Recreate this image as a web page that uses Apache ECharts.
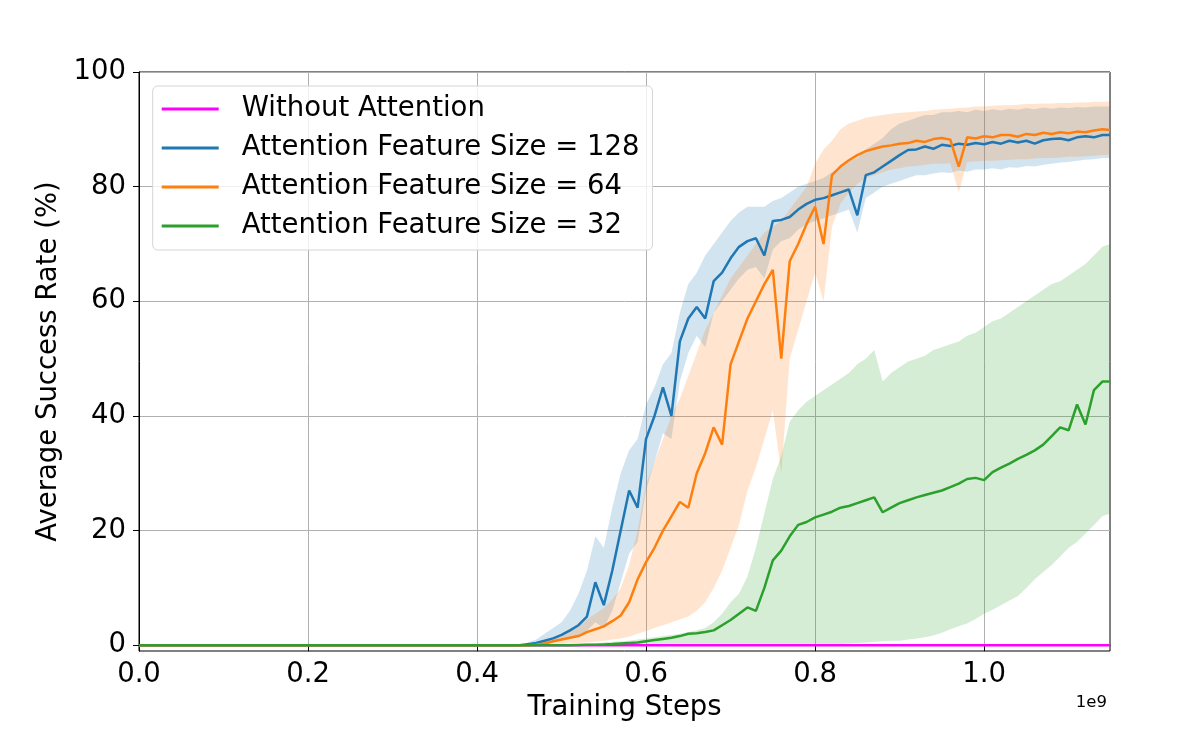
<!DOCTYPE html>
<html><head><meta charset="utf-8">
<script src="https://cdn.jsdelivr.net/npm/echarts@6/dist/echarts.min.js"></script>
<style>html,body{margin:0;padding:0;background:#fff}#c{width:1196px;height:734px}</style>
</head><body><div id="c"></div>
<script>
// x values in units of 1e9 training steps
const steps = [0,0.1,0.2,0.3,0.4,0.45,
0.46,0.47,0.48,0.49,
0.50,0.51,0.52,0.53,0.54,0.55,0.56,0.57,0.58,0.59,
0.60,0.61,0.62,0.63,0.64,0.65,0.66,0.67,0.68,0.69,
0.70,0.71,0.72,0.73,0.74,0.75,0.76,0.77,0.78,0.79,
0.80,0.81,0.82,0.83,0.84,0.85,0.86,0.87,0.88,0.89,
0.90,0.91,0.92,0.93,0.94,0.95,0.96,0.97,0.98,0.99,
1.00,1.01,1.02,1.03,1.04,1.05,1.06,1.07,1.08,1.09,
1.10,1.11,1.12,1.13,1.14,
1.149];

const noAttention = [0,0,0,0,0,0, 0,0,0,0, 0,0,0,0,0,0,0,0,0,0, 0,0,0,0,0,0,0,0,0,0,
0,0,0,0,0,0,0,0,0,0, 0,0,0,0,0,0,0,0,0,0, 0,0,0,0,0,0,0,0,0,0, 0,0,0,0,0,0,0,0,0,0, 0,0,0,0,0, 0];

const mean128 = [0,0,0,0,0,0,
0.2,0.4,0.8,1.2,
1.8,2.6,3.5,5.0,11,7,13,20,27,24,
36,40,45,40,53,57,59,57,63.5,65,
67.5,69.5,70.5,71,68,74,74.2,74.7,76,77,
77.7,78,78.5,79,79.5,75,82,82.5,83.5,84.5,
85.5,86.4,86.5,87,86.6,87.3,87.1,87.5,87.3,87.6,
87.4,87.8,87.5,88,87.7,88,87.5,88.1,88.3,88.4,
88.1,88.6,88.8,88.6,89,
89];
const hi128 = [0,0,0,0,0,0,
0.5,1,2,3,
4,6,9,13,19,17,24,30,34,36,
42,45,49,51,58,63,65,68,70,72,
74,75.5,76.5,76.5,76.5,77.5,78,79,80,80.5,
81,81.5,82.5,83.5,84.5,85,86.5,87.5,88.5,90,
91,91.5,92,92.5,92.5,93,93,93.2,93,93.4,
93.2,93.5,93.3,93.6,93.4,93.7,93.5,93.8,93.6,93.8,
93.7,93.9,93.8,94,94,
94];
const lo128 = [0,0,0,0,0,0,
0,0,0.2,0.4,
0.8,1.2,1.8,2.5,4,3,6,11,16,18,
27,32,37,36,46,51,54,52,58,60,
62,64,65.5,66,64,69,70.5,71,72.5,73.5,
74,74.5,75,75.5,76,72,78,79,80,80.5,
81,81.5,82,82,82.3,82.5,82.4,82.8,82.6,83,
83,83.2,83,83.4,83.3,83.6,83.5,83.8,84,84.2,
84.3,84.5,84.7,84.8,85,
85];

const mean64 = [0,0,0,0,0,0,
0,0.1,0.3,0.7,
1.0,1.3,1.6,2.3,2.8,3.3,4.2,5.2,7.5,11.5,
14.5,17,20,22.5,25,24,30,33.5,38,35,
49,53,57,60,63,65.5,50,67,70,73.5,
76.5,70,82,83.5,84.6,85.5,86.2,86.6,87,87.2,
87.5,87.6,88,87.8,88.3,88.5,88.2,83.5,88.6,88.4,
88.8,88.6,89,89,88.7,89.2,89,89.4,89.2,89.5,
89.3,89.6,89.5,89.8,90,
89.9];
const hi64 = [0,0,0,0,0,0,
0,0.3,0.6,1.2,
2,2.8,3.5,4.5,5.5,6.5,8,10,14,20,
28,32,36,40,43,47,51,55,58,61,
64,66,68,70,72,73,74,76,78,80,
84,86.5,88,90,91,91.5,92,92.3,92.5,92.7,
92.9,93,93.1,93.2,93.4,93.5,93.6,93.7,93.8,94,
94,94.1,94.2,94.2,94.3,94.4,94.4,94.5,94.5,94.6,
94.6,94.7,94.7,94.8,94.8,
94.8];
const lo64 = [0,0,0,0,0,0,
0,0,0,0.1,
0.2,0.3,0.4,0.5,0.6,0.8,1,1.2,1.5,2,
2.5,3,3.5,4,4.5,5,6,7.5,10,13,
17,21,27,31,36,41,30,50,55,60,
65,60,73,77,79,80.5,81.5,82,82.5,83,
83.2,83.5,83.6,83.8,84,84,84.1,79,84.3,84.4,
84.5,84.5,84.6,84.7,84.8,84.8,84.9,85,85,85.1,
85.2,85.2,85.3,85.4,85.5,
85.5];

const mean32 = [0,0,0,0,0,0,
0,0,0,0,
0,0,0.05,0.1,0.1,0.15,0.2,0.3,0.4,0.5,
0.7,0.9,1.1,1.3,1.6,2.0,2.1,2.3,2.6,3.5,
4.4,5.5,6.6,6,10,14.8,16.5,19,21,21.5,
22.3,22.8,23.3,24,24.3,24.8,25.3,25.8,23.2,24,
24.8,25.3,25.8,26.2,26.6,27,27.6,28.2,29,29.2,
28.8,30.2,31,31.7,32.5,33.2,34,35,36.5,38,
37.5,42,38.5,44.5,46,
46];
const hi32 = [0,0,0,0,0,0,
0,0,0,0.1,
0.1,0.2,0.2,0.3,0.4,0.5,0.6,0.7,0.8,1,
1.2,1.4,1.6,1.8,2,2.3,2.6,3,4,5.5,
7.5,9,12,17,23,29,33,39,41,42.5,
43.5,44.5,45.5,46.5,47.5,49,50,51.5,46,47.5,
48.5,49.5,50,50.5,51.5,52,52.5,53,54,54.5,
55.5,56.5,57,58,59,60,61,62,63,63.5,
64.5,65.5,66.5,68,69.5,
70];
const lo32 = [0,0,0,0,0,0,
0,0,0,0,
0,0,0,0,0,0,0,0,0,0,
0,0,0,0,0,0,0,0,0,0,
0,0,0,0,0,0,0,0,0,0,
0,0,0,0.2,0.3,0.4,0.5,0.6,0.7,0.8,
0.8,1,1.2,1.4,1.7,2.2,2.8,3.3,3.8,4.6,
5.5,6.2,7,7.8,8.6,10,11.5,12.8,14,15.5,
17,18,19.5,21,22.5,
23];

const names = ['Without Attention','Attention Feature Size = 128','Attention Feature Size = 64','Attention Feature Size = 32'];
const colors = ['#ff00ff','#1f77b4','#ff7f0e','#2ca02c'];
const bandColors = ['rgba(255,0,255,0.2)','rgba(31,119,180,0.2)','rgba(255,127,14,0.2)','rgba(44,160,44,0.2)'];
const yTicks = [0,20,40,60,80,100];
const xTicks = [0,0.2,0.4,0.6,0.8,1.0];

const FONT = 'DejaVu Sans';
const pairs = ys => steps.map((x,i)=>[x, ys[i]]);

function band(i, lo, hi){
  return {type:'custom', name:'band'+i, silent:true, z:1, clip:true,
    data: steps.map((x,k)=>[x, lo[k], hi[k]]),
    encode:{x:0, y:[1,2]},
    renderItem:(params, api)=>{
      if (params.dataIndex !== 0) return null;
      const pts = [];
      for (let k=0;k<steps.length;k++) pts.push(api.coord([steps[k], hi[k]]));
      for (let k=steps.length-1;k>=0;k--) pts.push(api.coord([steps[k], lo[k]]));
      return {type:'polygon', shape:{points:pts}, style:{fill:bandColors[i], stroke:null}};
    }};
}
function mainLine(i, ys){
  return {type:'line', name:names[i], data:pairs(ys), symbol:'none', z:3+i,
    lineStyle:{width:2.5, color:colors[i]}, itemStyle:{color:colors[i]}};
}

const chart = echarts.init(document.getElementById('c'), null, {renderer:'canvas'});
chart.setOption({
  animation:false,
  backgroundColor:'#fff',
  grid:{left:139, right:86, top:72, bottom:83, show:true, borderColor:'#000', borderWidth:1, backgroundColor:'transparent'},
  xAxis:{type:'value', min:0, max:1.149, interval:0.2,
    name:'Training Steps', nameLocation:'middle', nameGap:40,
    nameTextStyle:{fontSize:27.5, fontFamily:FONT, color:'#000'},
    axisLine:{show:true, lineStyle:{color:'#000', width:1}},
    axisTick:{show:true, length:6, lineStyle:{color:'#000'}, customValues:xTicks},
    axisLabel:{fontSize:27.5, fontFamily:FONT, color:'#000', margin:10,
      customValues:xTicks, formatter:v=>Number(v).toFixed(1)},
    splitLine:{show:true, lineStyle:{color:'#b0b0b0', width:1}}
  },
  yAxis:{type:'value', min:-1, max:100,
    name:'Average Success Rate (%)', nameLocation:'middle', nameGap:75,
    nameTextStyle:{fontSize:27.5, fontFamily:FONT, color:'#000'},
    axisLine:{show:true, lineStyle:{color:'#000', width:1}},
    axisTick:{show:true, length:6, lineStyle:{color:'#000'}, customValues:yTicks},
    axisLabel:{fontSize:27.5, fontFamily:FONT, color:'#000', margin:13,
      customValues:yTicks, formatter:v=>String(Math.round(v))},
    splitLine:{show:true, lineStyle:{color:'#b0b0b0', width:1}}
  },
  legend:{data:names, orient:'vertical', left:152.7, top:86,
    icon:'rect', itemWidth:57, itemHeight:3, itemGap:9,
    padding:[8,13,9,9], backgroundColor:'rgba(255,255,255,0.8)',
    borderColor:'#d4d4d4', borderWidth:1, borderRadius:5,
    textStyle:{fontSize:27.5, fontFamily:FONT, color:'#000', lineHeight:30, padding:[0,0,0,18]},
    selectedMode:false},
  graphic:[{type:'text', right:89, top:694, style:{text:'1e9', font:'16.5px "DejaVu Sans"', fill:'#000'}}],
  series:[
    band(1, lo128, hi128),
    band(2, lo64, hi64),
    band(3, lo32, hi32),
    mainLine(0, noAttention),
    mainLine(1, mean128),
    mainLine(2, mean64),
    mainLine(3, mean32)
  ]
});
</script></body></html>
